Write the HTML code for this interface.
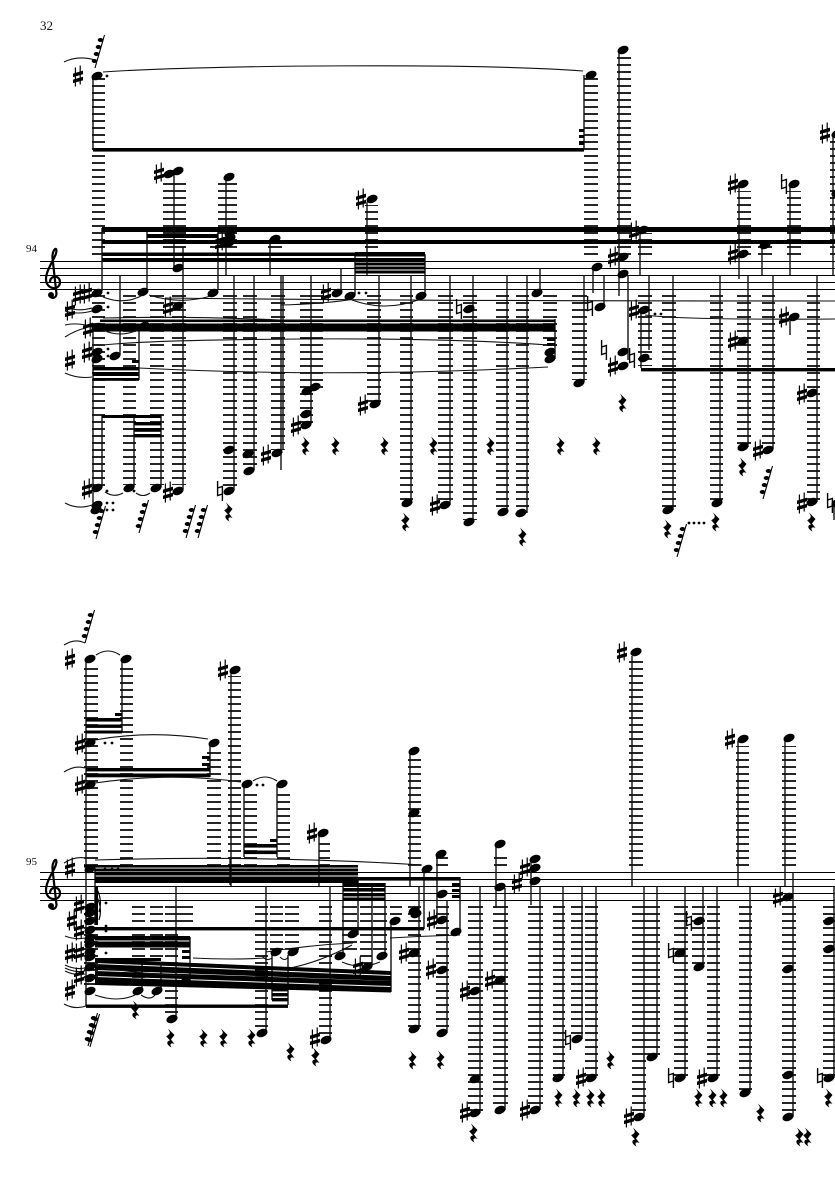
<!DOCTYPE html>
<html><head><meta charset="utf-8"><title>Score page 32</title>
<style>html,body{margin:0;padding:0;background:#fff}svg{display:block}text{font-family:"Liberation Serif",serif;fill:#111}</style></head>
<body>
<svg xmlns="http://www.w3.org/2000/svg" width="835" height="1181" viewBox="0 0 835 1181">
<defs>
<pattern id="a" patternUnits="userSpaceOnUse" width="7" height="7"><rect x="0" y="1.15" width="7" height="1.7" fill="#000"/></pattern>
<pattern id="b" patternUnits="userSpaceOnUse" width="7" height="7"><rect x="0" y="3.15" width="7" height="1.7" fill="#000"/></pattern>
<ellipse id="n" rx="5.8" ry="3.9" transform="rotate(-22)" fill="#000"/>
<g id="s" fill="#000"><path d="M-2.6 -8.5V10.5M2.2 -10.5V8.5" stroke="#000" stroke-width="1.2" fill="none"/><path d="M-5 -2.4L5 -5.4V-1.8L-5 1.1ZM-5 3.6L5 .8V4.4L-5 7.1Z"/></g>
<g id="h" fill="none" stroke="#000" stroke-width="1.4"><path d="M-2.4 -10V4.5L2.4 3V-4.5L-2.4 -3M2.4 -4.5V10"/></g>
<path id="r" fill="#000" d="M-2 -9.5L4.5 -3L1 1.5L4.5 6C1.5 4.5 -1 5.5 1.5 9.5C-3.5 7 -4 3 0 2.5L-3.8 -1.8C-1.5 -3 .5 -4.5 -.5 -6.5Z"/>
<g id="g"><path d="M0 33L9.5 0" stroke="#000" stroke-width="1.1" fill="none"/><ellipse cx="-.5" cy="26" rx="2.8" ry="2" fill="#000"/><ellipse cx="1.5" cy="19" rx="2.8" ry="2" fill="#000"/><ellipse cx="3.5" cy="12" rx="2.8" ry="2" fill="#000"/><ellipse cx="5.5" cy="5" rx="2.8" ry="2" fill="#000"/></g>
<g id="c"><path d="M-3 13C-3 17 3 17 3.5 12L-.5 -24C-1 -30 2 -34 3 -33C6 -28 -7 -14 -7 -3C-7 8 7 9 7 0C7 -7 -3 -7 -3 0" fill="none" stroke="#000" stroke-width="2.2"/><circle cx="-2" cy="13" r="3" fill="#000"/></g>
</defs>

<text x="40" y="30" font-size="13">32</text>
<text x="26" y="252" font-size="11">94</text>
<text x="26" y="865" font-size="11">95</text>

<!-- staff lines -->
<path d="M40 261.5H835M40 268.5H835M40 275.5H835M40 282.5H835M40 289.5H835M40 872.5H835M40 879.5H835M40 886.5H835M40 893.5H835M40 900.5H835" stroke="#000" stroke-width="1.1" fill="none"/>
<use href="#c" x="53" y="282"/><use href="#c" x="53" y="893"/>

<!-- ledgers system 1 -->
<g fill="url(#a)">
<rect x="92" y="78" width="13" height="177"/><rect x="92" y="295" width="13" height="192"/>
<rect x="584" y="78" width="14" height="177"/><rect x="617" y="56" width="14" height="199"/>
<rect x="163" y="180" width="23" height="75"/><rect x="218" y="178" width="19" height="77"/>
<rect x="210" y="245" width="13" height="3"/><rect x="268" y="245" width="14" height="10"/>
<rect x="123" y="295" width="13" height="190"/><rect x="150" y="295" width="14" height="190"/><rect x="172" y="295" width="14" height="190"/>
<rect x="223" y="295" width="14" height="193"/><rect x="243" y="295" width="14" height="174"/><rect x="271" y="295" width="14" height="155"/>
<rect x="300" y="295" width="23" height="93"/><rect x="300" y="388" width="13" height="35"/><rect x="367" y="295" width="14" height="107"/>
<rect x="400" y="295" width="13" height="205"/><rect x="438" y="295" width="15" height="208"/><rect x="463" y="295" width="14" height="225"/>
<rect x="496" y="295" width="13" height="215"/><rect x="516" y="295" width="13" height="215"/><rect x="543" y="295" width="14" height="55"/>
<rect x="572" y="295" width="15" height="85"/><rect x="638" y="295" width="14" height="71"/><rect x="662" y="295" width="14" height="213"/>
<rect x="710" y="295" width="13" height="205"/><rect x="737" y="295" width="14" height="150"/><rect x="762" y="295" width="13" height="153"/>
<rect x="807" y="295" width="13" height="205"/>
<rect x="365" y="205" width="13" height="50"/><rect x="638" y="233" width="14" height="22"/><rect x="737" y="191" width="14" height="64"/>
<rect x="758" y="246" width="14" height="9"/><rect x="787" y="191" width="14" height="64"/><rect x="830" y="141" width="5" height="114"/>
</g>

<!-- ledgers system 2 -->
<g fill="url(#b)">
<rect x="84" y="664" width="14" height="203"/><rect x="120" y="664" width="13" height="203"/><rect x="207" y="748" width="14" height="119"/>
<rect x="228" y="676" width="13" height="191"/><rect x="244" y="790" width="13" height="77"/><rect x="277" y="790" width="13" height="77"/>
<rect x="319" y="838" width="11" height="29"/><rect x="408" y="757" width="13" height="110"/><rect x="436" y="857" width="12" height="10"/>
<rect x="494" y="857" width="13" height="10"/><rect x="629" y="660" width="14" height="207"/><rect x="736" y="746" width="13" height="121"/><rect x="782" y="746" width="14" height="121"/>
<rect x="84" y="906" width="14" height="84"/><rect x="132" y="906" width="13" height="82"/><rect x="150" y="906" width="13" height="82"/>
<rect x="165" y="906" width="13" height="110"/><rect x="178" y="906" width="15" height="16"/><rect x="255" y="906" width="13" height="124"/>
<rect x="270" y="906" width="13" height="44"/><rect x="285" y="906" width="14" height="44"/><rect x="319" y="906" width="13" height="131"/>
<rect x="342" y="906" width="15" height="49"/><rect x="360" y="906" width="12" height="59"/><rect x="373" y="906" width="14" height="49"/>
<rect x="390" y="906" width="12" height="14"/><rect x="408" y="906" width="13" height="121"/><rect x="436" y="906" width="13" height="125"/>
<rect x="468" y="906" width="15" height="205"/><rect x="493" y="906" width="15" height="202"/><rect x="528" y="906" width="15" height="202"/>
<rect x="553" y="906" width="12" height="171"/><rect x="571" y="906" width="12" height="131"/><rect x="585" y="906" width="13" height="171"/>
<rect x="632" y="906" width="14" height="209"/><rect x="646" y="906" width="14" height="150"/><rect x="674" y="906" width="14" height="171"/>
<rect x="692" y="906" width="13" height="59"/><rect x="707" y="906" width="13" height="171"/><rect x="739" y="906" width="13" height="186"/>
<rect x="782" y="906" width="14" height="210"/><rect x="823" y="906" width="12" height="171"/>
</g>

<!-- stems -->
<path fill="none" stroke="#111" stroke-width="1.4" d="M93 76V149M584 75V149M619 50V296M93 330V505M102 228V291M147 228V290M218 228V290M270 239V275M174 174V270M183 247V490M226 177V275M234 275V490M254 275V470M283 275V450M120 275V355M139 328V380M102 415V487M134 415V487M161 415V487
M281 275V470M311 275V424M379 275V403M411 275V503M367 202V275M341 268V291M355 254V295M425 254V295M450 275V505M473 275V523M507 275V512M527 275V513M540 268V291M555 319V359M584 275V382
M593 267V293M604 275V305M628 275V360M640 232V275M641 312V368M649 275V350M673 275V510M720 275V503M739 187V279M762 245V275M790 187V275M833 134V275M748 275V447M773 275V449M790 320V335M817 275V502M834 503V520
M86 659V1006M122 659V732M210 743V777M244 785V857M277 784V857M231 670V886M319 833V886M410 751V886M95 870V925M142 962V990M161 962V990M176 887V1018M230 857V885M266 886V1032M330 886V1040M272 952V1000M288 955V1005M190 937V982
M460 877V932M343 883V955M358 880V935M385 883V955M372 885V966M391 921V992M424 869V929M437 858V920M447 900V1033M419 886V1029M480 886V1113M496 844V908M505 888V1110M531 859V905M540 887V1110M563 886V1078M582 886V1039M596 886V1078M632 656V886M644 886V1117M657 886V1057M685 886V1078M703 886V967M717 886V1078M750 886V1093M738 741V886M785 741V886M793 872V1117M834 886V1078"/>

<!-- beams system 1 -->
<g fill="#000">
<rect x="93" y="148" width="491" height="3.6"/>
<rect x="102" y="227" width="733" height="5"/><rect x="102" y="240" width="733" height="4"/>
<rect x="147" y="234" width="71" height="4"/>
<rect x="102" y="252.5" width="253" height="3.5"/><rect x="102" y="258" width="253" height="3.5"/>
<rect x="355" y="252" width="70" height="4.5"/><rect x="355" y="258" width="70" height="3"/><rect x="355" y="262.5" width="70" height="3"/><rect x="355" y="266.5" width="70" height="3"/><rect x="355" y="270.5" width="70" height="3"/>
<rect x="100" y="319.5" width="455" height="2.6"/><rect x="92" y="323.5" width="463" height="8"/>
<rect x="547" y="338" width="8" height="3"/><rect x="547" y="343" width="8" height="3"/>
<rect x="93" y="367" width="46" height="3.4"/><rect x="93" y="372" width="46" height="4"/><rect x="93" y="378" width="46" height="2.8"/>
<rect x="132" y="360" width="7" height="3"/>
<rect x="102" y="415" width="59" height="3"/>
<rect x="134" y="422" width="27" height="3.4"/><rect x="134" y="428" width="27" height="3.8"/><rect x="134" y="434" width="27" height="3.4"/>
<rect x="579" y="129" width="5" height="3"/><rect x="579" y="135" width="5" height="3"/><rect x="579" y="141" width="5" height="4"/>
<rect x="641" y="368" width="194" height="3.4"/>
</g>

<!-- beams system 2 -->
<g fill="#000">
<rect x="86" y="718" width="36" height="3.6"/><rect x="86" y="724.5" width="36" height="3.4"/><rect x="86" y="730.5" width="36" height="3"/><rect x="115" y="713" width="7" height="3"/>
<rect x="86" y="768" width="124" height="3.4"/><rect x="86" y="773.5" width="124" height="3.8"/><rect x="202" y="756" width="8" height="3"/><rect x="202" y="763" width="8" height="3"/>
<rect x="244" y="844" width="33" height="3.6"/><rect x="244" y="850.5" width="33" height="3.6"/><rect x="270" y="839" width="7" height="3"/>
<rect x="84" y="865" width="274" height="2.6"/><rect x="95" y="868.5" width="263" height="3"/><rect x="95" y="872.5" width="263" height="3"/><rect x="95" y="876.5" width="263" height="6.5"/>
<rect x="358" y="877" width="102" height="3.6"/>
<rect x="343" y="883" width="42" height="3.6"/><rect x="343" y="888" width="42" height="3.6"/><rect x="343" y="893" width="42" height="3.4"/><rect x="343" y="897.5" width="42" height="3.4"/>
<rect x="452" y="883" width="8" height="3"/><rect x="452" y="889" width="8" height="3"/><rect x="452" y="895" width="8" height="3"/>
<rect x="95" y="927" width="329" height="3.4"/>
<rect x="95" y="936" width="95" height="4.5"/><rect x="95" y="941.5" width="95" height="6"/><rect x="182" y="950" width="8" height="3"/><rect x="182" y="956" width="8" height="3"/>
<polygon points="95,959 391,971 391,975 95,963"/><polygon points="95,964 391,976 391,981 95,970"/><polygon points="95,971 391,981 391,986 95,976"/><polygon points="95,977 391,987 391,992.5 95,985"/>
<rect x="95" y="958" width="66" height="3"/>
<rect x="272" y="988" width="16" height="3.4"/><rect x="272" y="993" width="16" height="3.4"/><rect x="272" y="998" width="16" height="3.4"/>
<rect x="86" y="1004.5" width="202" height="3.4"/>
<rect x="95" y="887" width="3" height="38"/>
</g>
<path d="M96 887Q103 900 99 912M96 895Q103 908 99 920" fill="none" stroke="#000" stroke-width="1.2"/>

<!-- slurs and ties -->
<g fill="none" stroke="#111" stroke-width="1.1">
<path d="M103 72C200 65 480 63 583 71"/><path d="M64 62Q78 55 95 60"/>
<path d="M103 297Q123 305 141 296M149 295Q180 305 211 296M103 330Q120 338 138 330"/>
<path d="M65 307Q78 312 92 308M65 311Q78 315 92 311M65 325Q78 322 92 327M65 337Q76 330 86 328M65 373Q78 379 92 377M65 503Q78 510 92 505"/>
<path d="M103 345Q150 340 300 339T548 345"/><path d="M139 368Q340 378 548 367"/>
<path d="M103 318Q190 316 280 320Q420 322 555 320"/><path d="M165 298Q400 301 835 301"/><path d="M645 315Q680 320 835 319"/>
<path d="M281 305Q320 304 348 300M352 300Q385 312 418 300"/>
<path d="M105 492Q114 498 123 493M136 493Q143 498 150 493"/>
<path d="M96 655Q108 647 120 655M64 645Q75 638 85 643"/>
<path d="M95 740Q150 730 208 739M64 772Q75 765 85 768M95 783Q170 772 241 782M253 781Q265 773 277 781M64 863Q75 856 85 858"/>
<path d="M95 860Q260 855 422 865"/>
<path d="M95 995Q118 1003 135 995M141 995Q150 1001 155 995M64 1004Q75 1010 86 1006"/>
<path d="M65 936Q75 940 85 938M65 965Q75 970 85 968M65 968Q75 973 85 971M65 971Q75 976 85 974"/>
<path d="M193 958Q230 960 266 958M262 956Q267 962 272 958M280 957Q285 962 288 957M266 952Q310 945 353 943M290 968Q320 962 352 945M390 938Q425 936 460 935M342 962Q360 970 380 962M105 968Q150 975 190 976"/>
</g>

<!-- note heads -->
<g>
<use href="#n" x="97" y="76"/><use href="#n" x="591" y="75"/><use href="#n" x="623" y="50"/>
<use href="#n" x="169" y="174"/><use href="#n" x="178" y="171"/><use href="#n" x="229" y="177"/><use href="#n" x="230" y="233"/><use href="#n" x="230" y="238"/><use href="#n" x="229" y="243"/><use href="#n" x="275" y="239"/><use href="#n" x="178" y="268"/>
<use href="#n" x="97" y="293"/><use href="#n" x="143" y="292"/><use href="#n" x="213" y="293"/><use href="#n" x="178" y="306"/><use href="#n" x="97" y="309"/><use href="#n" x="97" y="327"/><use href="#n" x="144" y="326"/><use href="#n" x="97" y="352"/><use href="#n" x="97" y="359"/><use href="#n" x="115" y="356"/>
<use href="#n" x="97" y="488"/><use href="#n" x="129" y="488"/><use href="#n" x="156" y="488"/><use href="#n" x="178" y="491"/><use href="#n" x="97" y="505"/><use href="#n" x="96" y="510"/>
<use href="#n" x="229" y="450"/><use href="#n" x="229" y="491"/><use href="#n" x="248" y="454"/><use href="#n" x="249" y="471"/><use href="#n" x="277" y="453"/>
<use href="#n" x="315" y="387"/><use href="#n" x="307" y="391"/><use href="#n" x="306" y="414"/><use href="#n" x="306" y="425"/><use href="#n" x="375" y="404"/><use href="#n" x="407" y="503"/><use href="#n" x="372" y="199"/>
<use href="#n" x="337" y="293"/><use href="#n" x="350" y="296"/><use href="#n" x="421" y="296"/><use href="#n" x="445" y="505"/><use href="#n" x="469" y="309"/><use href="#n" x="469" y="522"/><use href="#n" x="503" y="512"/><use href="#n" x="521" y="513"/><use href="#n" x="537" y="293"/><use href="#n" x="550" y="352"/><use href="#n" x="550" y="359"/><use href="#n" x="579" y="383"/>
<use href="#n" x="597" y="267"/><use href="#n" x="600" y="307"/><use href="#n" x="623" y="257"/><use href="#n" x="623" y="274"/><use href="#n" x="643" y="230"/><use href="#n" x="644" y="310"/><use href="#n" x="644" y="358"/><use href="#n" x="623" y="352"/><use href="#n" x="623" y="366"/>
<use href="#n" x="668" y="510"/><use href="#n" x="717" y="503"/><use href="#n" x="743" y="184"/><use href="#n" x="743" y="254"/><use href="#n" x="765" y="245"/><use href="#n" x="794" y="184"/><use href="#n" x="837" y="134"/><use href="#n" x="837" y="193"/><use href="#n" x="743" y="447"/><use href="#n" x="743" y="341"/><use href="#n" x="768" y="450"/><use href="#n" x="794" y="317"/><use href="#n" x="812" y="502"/><use href="#n" x="812" y="393"/><use href="#n" x="837" y="503"/>

<use href="#n" x="90" y="659"/><use href="#n" x="126" y="659"/><use href="#n" x="90" y="743"/><use href="#n" x="214" y="743"/><use href="#n" x="90" y="785"/><use href="#n" x="247" y="784"/><use href="#n" x="282" y="784"/><use href="#n" x="235" y="670"/>
<use href="#n" x="90" y="869"/><use href="#n" x="90" y="907"/><use href="#n" x="90" y="913"/><use href="#n" x="90" y="921"/><use href="#n" x="90" y="930"/><use href="#n" x="90" y="938"/><use href="#n" x="90" y="944"/><use href="#n" x="90" y="952"/><use href="#n" x="90" y="957"/><use href="#n" x="90" y="967"/><use href="#n" x="90" y="978"/><use href="#n" x="90" y="991"/>
<use href="#n" x="138" y="991"/><use href="#n" x="157" y="991"/><use href="#n" x="172" y="1019"/><use href="#n" x="262" y="1033"/><use href="#n" x="326" y="1040"/><use href="#n" x="276" y="952"/><use href="#n" x="293" y="952"/><use href="#n" x="185" y="982"/>
<use href="#n" x="323" y="833"/><use href="#n" x="414" y="751"/><use href="#n" x="414" y="813"/><use href="#n" x="427" y="869"/><use href="#n" x="441" y="854"/><use href="#n" x="442" y="894"/><use href="#n" x="442" y="920"/><use href="#n" x="442" y="970"/><use href="#n" x="442" y="1033"/><use href="#n" x="456" y="932"/>
<use href="#n" x="340" y="956"/><use href="#n" x="353" y="934"/><use href="#n" x="367" y="967"/><use href="#n" x="382" y="956"/><use href="#n" x="395" y="921"/>
<use href="#n" x="414" y="911"/><use href="#n" x="416" y="914"/><use href="#n" x="414" y="953"/><use href="#n" x="414" y="1029"/>
<use href="#n" x="475" y="991"/><use href="#n" x="475" y="1079"/><use href="#n" x="475" y="1113"/><use href="#n" x="500" y="844"/><use href="#n" x="500" y="887"/><use href="#n" x="500" y="980"/><use href="#n" x="500" y="1110"/>
<use href="#n" x="535" y="859"/><use href="#n" x="535" y="868"/><use href="#n" x="535" y="881"/><use href="#n" x="535" y="1110"/><use href="#n" x="558" y="1078"/><use href="#n" x="577" y="1039"/><use href="#n" x="591" y="1078"/>
<use href="#n" x="636" y="652"/><use href="#n" x="639" y="1117"/><use href="#n" x="652" y="1057"/><use href="#n" x="680" y="953"/><use href="#n" x="680" y="1078"/><use href="#n" x="699" y="921"/><use href="#n" x="699" y="967"/><use href="#n" x="713" y="1078"/><use href="#n" x="745" y="1093"/><use href="#n" x="743" y="739"/><use href="#n" x="789" y="738"/>
<use href="#n" x="788" y="897"/><use href="#n" x="788" y="969"/><use href="#n" x="788" y="1075"/><use href="#n" x="788" y="1117"/><use href="#n" x="829" y="921"/><use href="#n" x="829" y="949"/><use href="#n" x="829" y="1078"/>
</g>

<!-- dots -->
<g fill="#000">
<circle cx="107" cy="76" r="1.4"/><circle cx="108" cy="293" r="1.4"/><circle cx="108" cy="307" r="1.4"/><circle cx="108" cy="349" r="1.4"/><circle cx="108" cy="356" r="1.4"/>
<circle cx="107" cy="503" r="1.4"/><circle cx="113" cy="503" r="1.4"/><circle cx="107" cy="510" r="1.4"/><circle cx="113" cy="510" r="1.4"/><circle cx="107" cy="491" r="1.4"/><circle cx="134" cy="491" r="1.4"/>
<circle cx="359" cy="293" r="1.4"/><circle cx="366" cy="293" r="1.4"/><circle cx="655" cy="314" r="1.4"/><circle cx="661" cy="314" r="1.4"/>
<circle cx="689" cy="523" r="1.4"/><circle cx="694" cy="523" r="1.4"/><circle cx="699" cy="523" r="1.4"/><circle cx="704" cy="523" r="1.4"/>
<circle cx="105" cy="743" r="1.4"/><circle cx="112" cy="743" r="1.4"/><circle cx="257" cy="785" r="1.4"/><circle cx="263" cy="785" r="1.4"/>
<circle cx="105" cy="869" r="1.4"/><circle cx="112" cy="869" r="1.4"/><circle cx="118" cy="869" r="1.4"/><circle cx="106" cy="903" r="1.4"/><circle cx="106" cy="926" r="1.4"/><circle cx="106" cy="931" r="1.4"/><circle cx="106" cy="953" r="1.4"/>
</g>

<!-- sharps -->
<g>
<use href="#s" x="78" y="76"/><use href="#s" x="159" y="173"/><use href="#s" x="220" y="242"/><use href="#s" x="168" y="307"/>
<use href="#s" x="78" y="295"/><use href="#s" x="87" y="293"/><use href="#s" x="70" y="310"/><use href="#s" x="88" y="328"/><use href="#s" x="87" y="352"/><use href="#s" x="70" y="360"/><use href="#s" x="87" y="489"/><use href="#s" x="168" y="492"/><use href="#s" x="266" y="455"/>
<use href="#s" x="296" y="426"/><use href="#s" x="363" y="405"/><use href="#s" x="361" y="199"/><use href="#s" x="326" y="293"/><use href="#s" x="435" y="505"/>
<use href="#s" x="613" y="257"/><use href="#s" x="634" y="231"/><use href="#s" x="634" y="310"/><use href="#s" x="613" y="366"/><use href="#s" x="733" y="184"/><use href="#s" x="733" y="254"/><use href="#s" x="825" y="133"/><use href="#s" x="733" y="341"/><use href="#s" x="758" y="450"/><use href="#s" x="784" y="317"/><use href="#s" x="802" y="503"/><use href="#s" x="802" y="394"/>
<use href="#s" x="70" y="659"/><use href="#s" x="80" y="744"/><use href="#s" x="80" y="785"/><use href="#s" x="223" y="670"/><use href="#s" x="70" y="868"/><use href="#s" x="79" y="905"/><use href="#s" x="72" y="920"/><use href="#s" x="79" y="930"/><use href="#s" x="79" y="952"/><use href="#s" x="70" y="953"/><use href="#s" x="79" y="976"/><use href="#s" x="70" y="990"/>
<use href="#s" x="315" y="1038"/><use href="#s" x="312" y="833"/><use href="#s" x="358" y="967"/><use href="#s" x="432" y="920"/><use href="#s" x="431" y="969"/><use href="#s" x="404" y="953"/><use href="#s" x="465" y="991"/><use href="#s" x="465" y="1112"/><use href="#s" x="490" y="980"/><use href="#s" x="525" y="868"/><use href="#s" x="517" y="883"/><use href="#s" x="525" y="1110"/><use href="#s" x="581" y="1078"/><use href="#s" x="622" y="652"/><use href="#s" x="629" y="1117"/><use href="#s" x="702" y="1078"/><use href="#s" x="778" y="897"/><use href="#s" x="730" y="739"/>
</g>

<!-- naturals -->
<g>
<use href="#h" x="220" y="491"/><use href="#h" x="459" y="309"/><use href="#h" x="590" y="306"/><use href="#h" x="604" y="350"/><use href="#h" x="632" y="358"/><use href="#h" x="784" y="184"/><use href="#h" x="830" y="503"/>
<use href="#h" x="568" y="1040"/><use href="#h" x="671" y="953"/><use href="#h" x="671" y="1078"/><use href="#h" x="689" y="921"/><use href="#h" x="820" y="1078"/>
</g>

<!-- rests -->
<g>
<use href="#r" x="228" y="512"/><use href="#r" x="305" y="446"/><use href="#r" x="335" y="446"/><use href="#r" x="384" y="446"/><use href="#r" x="433" y="446"/><use href="#r" x="490" y="446"/><use href="#r" x="405" y="522"/><use href="#r" x="522" y="537"/><use href="#r" x="560" y="446"/><use href="#r" x="596" y="446"/><use href="#r" x="622" y="403"/><use href="#r" x="667" y="529"/><use href="#r" x="715" y="522"/><use href="#r" x="742" y="467"/><use href="#r" x="811" y="522"/>
<use href="#r" x="135" y="1010"/><use href="#r" x="170" y="1038"/><use href="#r" x="203" y="1038"/><use href="#r" x="223" y="1038"/><use href="#r" x="251" y="1038"/><use href="#r" x="290" y="1052"/><use href="#r" x="315" y="1057"/><use href="#r" x="412" y="1060"/><use href="#r" x="440" y="1060"/><use href="#r" x="473" y="1133"/><use href="#r" x="558" y="1098"/><use href="#r" x="576" y="1098"/><use href="#r" x="590" y="1098"/><use href="#r" x="601" y="1098"/><use href="#r" x="610" y="1060"/><use href="#r" x="635" y="1137"/><use href="#r" x="698" y="1098"/><use href="#r" x="712" y="1098"/><use href="#r" x="723" y="1098"/><use href="#r" x="760" y="1113"/><use href="#r" x="799" y="1137"/><use href="#r" x="807" y="1137"/><use href="#r" x="828" y="1098"/>
</g>

<!-- grace flags -->
<g>
<use href="#g" x="95" y="35"/><use href="#g" x="96" y="506"/><use href="#g" x="139" y="500"/><use href="#g" x="186" y="505"/><use href="#g" x="198" y="505"/><use href="#g" x="677" y="524"/><use href="#g" x="763" y="466"/>
<use href="#g" x="85" y="610"/><use href="#g" x="88" y="1013"/><use href="#g" x="90" y="1014"/>
</g>
</svg>
</body></html>
